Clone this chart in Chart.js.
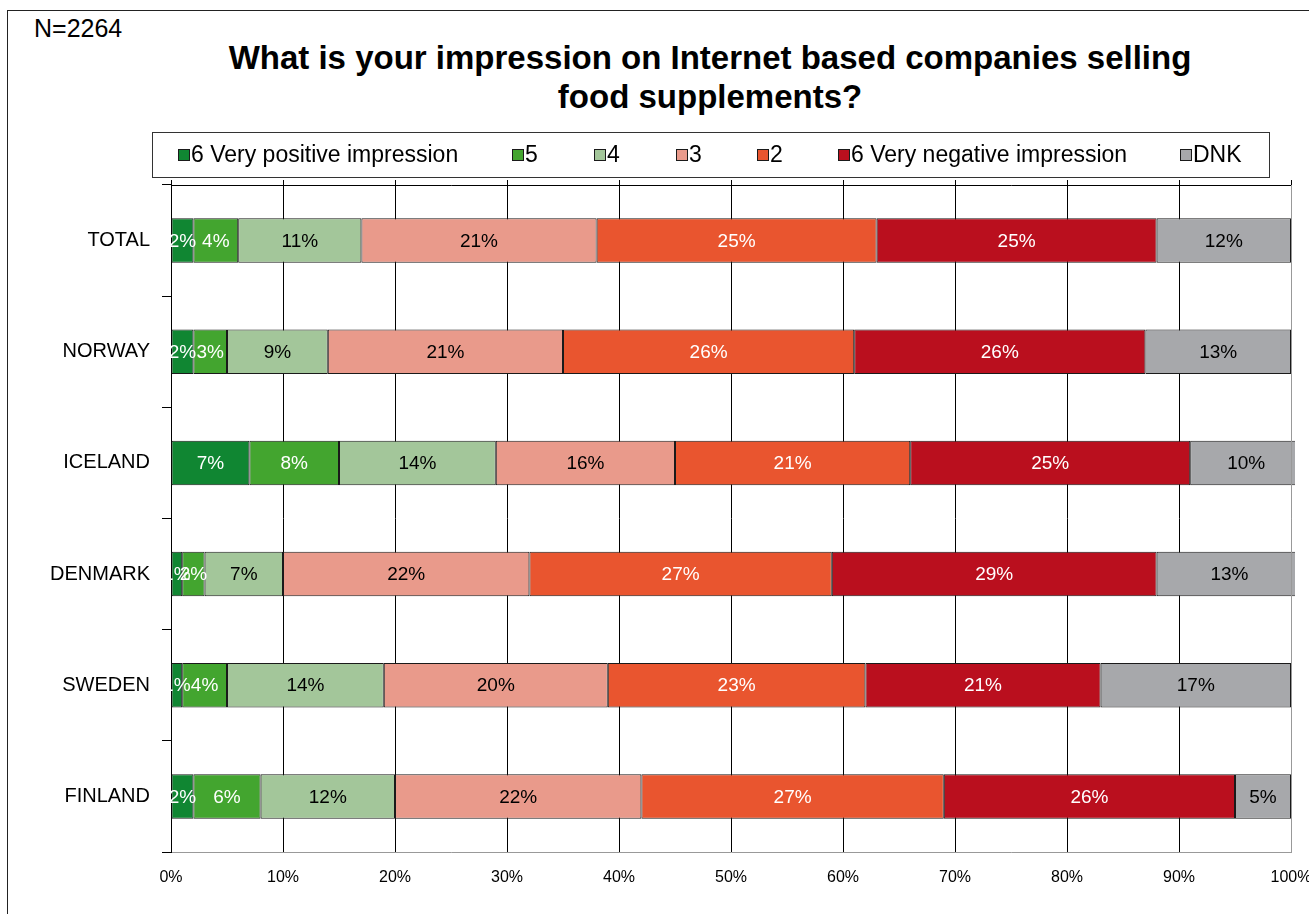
<!DOCTYPE html>
<html>
<head>
<meta charset="utf-8">
<script src="https://cdn.jsdelivr.net/npm/chart.js@4.4.1/dist/chart.umd.min.js"></script>
<style>
  body { margin: 0; background: #fff; font-family: "Liberation Sans", Arial, sans-serif; }
  #wrap { position: relative; width: 1309px; height: 914px; overflow: hidden; }
  #frame { position: absolute; left: 7px; top: 10px; width: 1400px; height: 1000px; border: 1px solid #222; }
  #count { position: absolute; left: 34px; top: 16px; font-size: 25px; line-height: 25px; color: #000; }
  #title { position: absolute; left: 160px; width: 1100px; top: 38px; text-align: center;
           font-weight: bold; font-size: 33px; line-height: 39px; color: #000; }
  #chart { position: absolute; left: 0; top: 0; }
</style>
</head>
<body>
<div id="wrap">
  <div id="frame"></div>
  <div id="count">N=2264</div>
  <div id="title">What is your impression on Internet based companies selling<br>food supplements?</div>
  <canvas id="chart" width="1309" height="914"></canvas>
</div>
<script>
// answers per country, in percent
const countries = ['TOTAL', 'NORWAY', 'ICELAND', 'DENMARK', 'SWEDEN', 'FINLAND'];
const veryPositive = [2, 2, 7, 1, 1, 2];
const five = [4, 3, 8, 2, 4, 6];
const four = [11, 9, 14, 7, 14, 12];
const three = [21, 21, 16, 22, 20, 22];
const two = [25, 26, 21, 27, 23, 27];
const veryNegative = [25, 26, 25, 29, 21, 26];
const dontKnow = [12, 13, 10, 13, 17, 5];

const answerNames = ['6 Very positive impression', '5', '4', '3', '2', '6 Very negative impression', 'DNK'];
const answerColors = ['#108632', '#43a52f', '#a3c69a', '#e99a8b', '#e9552f', '#ba0f1e', '#a7a8ab'];
const labelColors = ['#fff', '#fff', '#000', '#000', '#fff', '#fff', '#000'];
const answerValues = [veryPositive, five, four, three, two, veryNegative, dontKnow];

Chart.defaults.font.family = '"Liberation Sans", Arial, sans-serif';
Chart.defaults.color = '#000';

// value labels in the middle of every segment + the grey right edge on top
const barLabels = {
  id: 'barLabels',
  afterDatasetsDraw(chart) {
    const ctx = chart.ctx;
    const area = chart.chartArea;
    ctx.save();
    ctx.font = '19px "Liberation Sans", Arial, sans-serif';
    ctx.textAlign = 'center';
    ctx.textBaseline = 'middle';
    chart.data.datasets.forEach((ds, i) => {
      chart.getDatasetMeta(i).data.forEach((bar, j) => {
        ctx.fillStyle = labelColors[i];
        ctx.fillText(ds.data[j] + '%', (bar.x + bar.base) / 2, bar.y + 1);
      });
    });
    ctx.strokeStyle = '#999';
    ctx.lineWidth = 1;
    ctx.beginPath();
    ctx.moveTo(Math.round(area.right) + 0.5, area.top);
    ctx.lineTo(Math.round(area.right) + 0.5, area.bottom);
    ctx.stroke();
    ctx.restore();
  }
};

// boxed legend row above the plot
const legendX = [178, 512, 594, 676, 757, 838, 1180];
const boxLegend = {
  id: 'boxLegend',
  afterDraw(chart) {
    const ctx = chart.ctx;
    ctx.save();
    ctx.strokeStyle = '#333';
    ctx.lineWidth = 1;
    ctx.strokeRect(152.5, 132.5, 1117, 45);
    ctx.font = '23px "Liberation Sans", Arial, sans-serif';
    ctx.textBaseline = 'middle';
    chart.data.datasets.forEach((ds, i) => {
      const x = legendX[i];
      ctx.fillStyle = ds.backgroundColor;
      ctx.fillRect(x, 149, 12, 12);
      ctx.strokeStyle = '#1a1a1a';
      ctx.strokeRect(x + 0.5, 149.5, 11, 11);
      ctx.fillStyle = '#000';
      ctx.fillText(ds.label, x + 13, 156);
    });
    ctx.restore();
  }
};

const myChart = new Chart(document.getElementById('chart'), {
  type: 'bar',
  data: {
    labels: countries,
    datasets: answerNames.map((name, i) => ({
      label: name,
      data: answerValues[i],
      backgroundColor: answerColors[i],
      borderColor: '#1a1a1a',
      borderWidth: 1,
      borderSkipped: false,
      barPercentage: 0.4,
      categoryPercentage: 1,
      clip: { left: 0, top: false, right: 4, bottom: false }
    }))
  },
  options: {
    indexAxis: 'y',
    responsive: false,
    animation: false,
    devicePixelRatio: 1,
    layout: { padding: { left: 0, top: 180, right: 18, bottom: 0 } },
    plugins: {
      legend: { display: false },
      tooltip: { enabled: false }
    },
    scales: {
      x: {
        stacked: true,
        min: 0,
        max: 100,
        position: 'bottom',
        ticks: { stepSize: 10, callback: v => v + '%', font: { size: 16 }, padding: 16, maxRotation: 0, autoSkip: false },
        grid: { color: c => (c.tick && c.tick.value === 100 ? '#999' : '#000'), drawTicks: false },
        border: { color: '#999' },
        afterFit: s => { s.height = 62; s.paddingRight = 0; s.paddingLeft = 0; }
      },
      x2: {
        type: 'linear',
        min: 0,
        max: 100,
        position: 'top',
        ticks: { display: false, stepSize: 10 },
        grid: { drawOnChartArea: false, tickLength: 5, color: '#000' },
        border: { color: '#000' },
        afterFit: s => { s.height = 5; s.paddingRight = 0; s.paddingLeft = 0; }
      },
      y: {
        stacked: true,
        ticks: { font: { size: 20 }, padding: 12 },
        grid: { drawOnChartArea: false, tickLength: 9, color: '#000', offset: true },
        border: { color: '#000' },
        afterFit: s => { s.width = 171; }
      }
    }
  },
  plugins: [barLabels, boxLegend]
});
</script>
</body>
</html>
